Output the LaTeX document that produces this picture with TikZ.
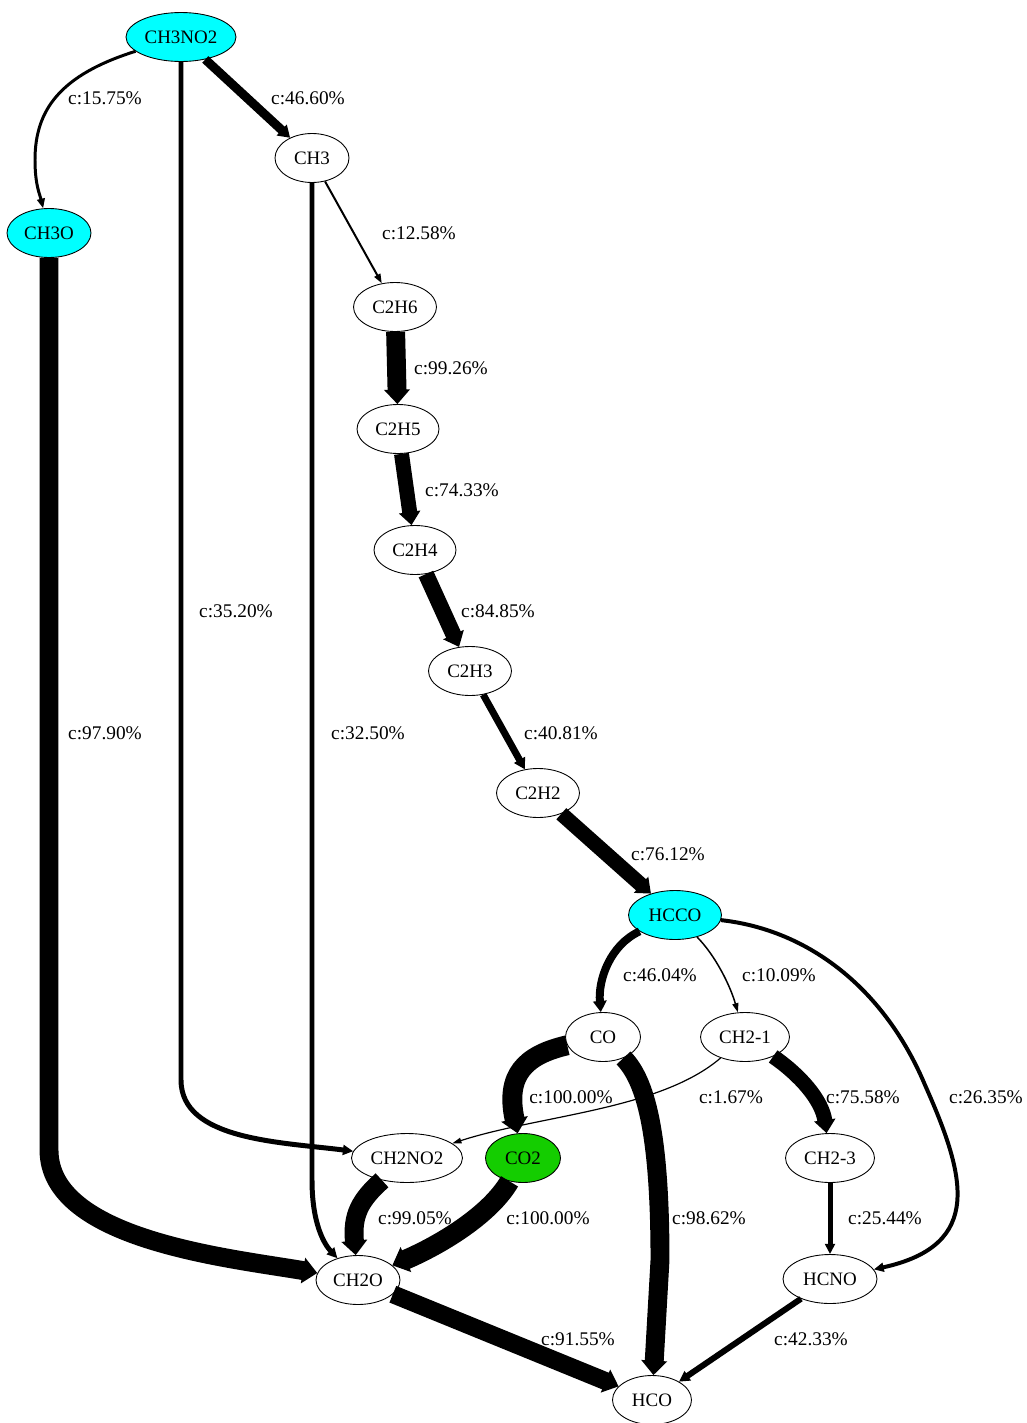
\documentclass[tikz,border=0pt]{standalone}
\usepackage{fontspec}
\setmainfont{Liberation Serif}
\usetikzlibrary{shapes.geometric,arrows.meta}
\definecolor{cotwo}{RGB}{20,205,0}
\definecolor{spcyan}{RGB}{0,255,255}
\begin{document}
\begin{tikzpicture}[x=0.02cm,y=-0.02cm,
   sp/.style={ellipse,draw,line width=0.5pt,inner sep=0pt,minimum height=0.98cm,font=\fontsize{10.8}{13}\selectfont},
   lbl/.style={inner sep=1pt,font=\fontsize{11}{13}\selectfont},
   pw/.style={line width=#1*0.567pt,-{Triangle[length=5pt 0.3,width=2.5pt 1.1]}}]
   \useasboundingbox (0,0) rectangle (1027,1423);
   \node [sp,fill=spcyan,minimum width=2.2cm] (ch3no2) at (181,37) {CH3NO2};
   \node [sp,minimum width=1.48cm] (ch3) at (312,158) {CH3};
   \node [sp,fill=spcyan,minimum width=1.68cm] (ch3o) at (49,233) {CH3O};
   \node [sp,minimum width=1.66cm] (c2h6) at (395,307) {C2H6};
   \node [sp,minimum width=1.64cm] (c2h5) at (398,429) {C2H5};
   \node [sp,minimum width=1.64cm] (c2h4) at (415,550) {C2H4};
   \node [sp,minimum width=1.66cm] (c2h3) at (470,671) {C2H3};
   \node [sp,minimum width=1.66cm] (c2h2) at (538,793) {C2H2};
   \node [sp,fill=spcyan,minimum width=1.86cm] (hcco) at (675,915) {HCCO};
   \node [sp,minimum width=1.5cm] (co) at (603,1037) {CO};
   \node [sp,minimum width=1.78cm] (ch2s) at (745,1037) {CH2-1};
   \node [sp,minimum width=2.22cm] (ch2no2) at (407,1158) {CH2NO2};
   \node [sp,fill=cotwo,minimum width=1.5cm] (co2) at (523,1158) {CO2};
   \node [sp,minimum width=1.78cm] (ch2t) at (830,1158) {CH2-3};
   \node [sp,minimum width=1.68cm] (ch2o) at (358,1280) {CH2O};
   \node [sp,minimum width=1.88cm] (hcno) at (830,1279) {HCNO};
   \node [sp,minimum width=1.58cm] (hco) at (652,1400) {HCO};

   \draw [pw=3] (ch3no2) .. controls (60,75) and (35,110) .. (35,160) .. controls (35,185) and (40,195) .. (ch3o);
   \draw [pw=9] (ch3no2) -- (ch3);
   \draw [pw=5] (ch3no2.south) -- (181,1080) .. controls (181,1140) and (280,1142) .. (ch2no2);
   \draw [pw=2] (ch3) -- (c2h6);
   \draw [pw=5] (ch3.south) -- (312,1180) .. controls (312,1225) and (325,1245) .. (ch2o);
   \draw [pw=19] (ch3o.south) -- (49,1150) .. controls (49,1240) and (230,1258) .. (ch2o);
   \draw [pw=19] (c2h6) -- (c2h5);
   \draw [pw=15] (c2h5) -- (c2h4);
   \draw [pw=16] (c2h4) -- (c2h3);
   \draw [pw=7] (c2h3) -- (c2h2);
   \draw [pw=15] (c2h2) -- (hcco);
   \draw [pw=8] (hcco) .. controls (610,945) and (598,980) .. (co);
   \draw [pw=1.5] (hcco) .. controls (715,955) and (730,985) .. (ch2s);
   \draw [pw=4] (hcco) .. controls (810,930) and (885,990) .. (925,1085) .. controls (965,1175) and (985,1245) .. (hcno);
   \draw [pw=20] (co) .. controls (525,1055) and (505,1075) .. (co2);
   \draw [pw=19] (co) .. controls (645,1080) and (660,1130) .. (660,1260) -- (hco);
   \draw [pw=1.2] (ch2s) .. controls (660,1110) and (540,1115) .. (ch2no2);
   \draw [pw=15] (ch2s) .. controls (800,1075) and (822,1100) .. (ch2t);
   \draw [pw=19] (ch2no2) .. controls (360,1200) and (352,1215) .. (ch2o);
   \draw [pw=20] (co2) .. controls (490,1215) and (440,1245) .. (ch2o);
   \draw [pw=5] (ch2t) -- (hcno);
   \draw [pw=18] (ch2o) -- (hco);
   \draw [pw=6] (hcno) -- (hco);

   \node [lbl] (l1) at (105,98) {c:15.75\%};
   \node [lbl] (l2) at (308,98) {c:46.60\%};
   \node [lbl] (l3) at (419,233) {c:12.58\%};
   \node [lbl] (l4) at (451,368) {c:99.26\%};
   \node [lbl] (l5) at (462,490) {c:74.33\%};
   \node [lbl] (l6) at (498,611) {c:84.85\%};
   \node [lbl] (l7) at (236,611) {c:35.20\%};
   \node [lbl] (l8) at (105,733) {c:97.90\%};
   \node [lbl] (l9) at (368,733) {c:32.50\%};
   \node [lbl] (l10) at (561,733) {c:40.81\%};
   \node [lbl] (l11) at (668,854) {c:76.12\%};
   \node [lbl] (l12) at (660,975) {c:46.04\%};
   \node [lbl] (l13) at (779,975) {c:10.09\%};
   \node [lbl] (l14) at (571,1097) {c:100.00\%};
   \node [lbl] (l15) at (731,1097) {c:1.67\%};
   \node [lbl] (l16) at (863,1097) {c:75.58\%};
   \node [lbl] (l17) at (986,1097) {c:26.35\%};
   \node [lbl] (l18) at (415,1218) {c:99.05\%};
   \node [lbl] (l19) at (548,1218) {c:100.00\%};
   \node [lbl] (l20) at (709,1218) {c:98.62\%};
   \node [lbl] (l21) at (885,1218) {c:25.44\%};
   \node [lbl] (l22) at (578,1339) {c:91.55\%};
   \node [lbl] (l23) at (811,1339) {c:42.33\%};
\end{tikzpicture}
\end{document}
